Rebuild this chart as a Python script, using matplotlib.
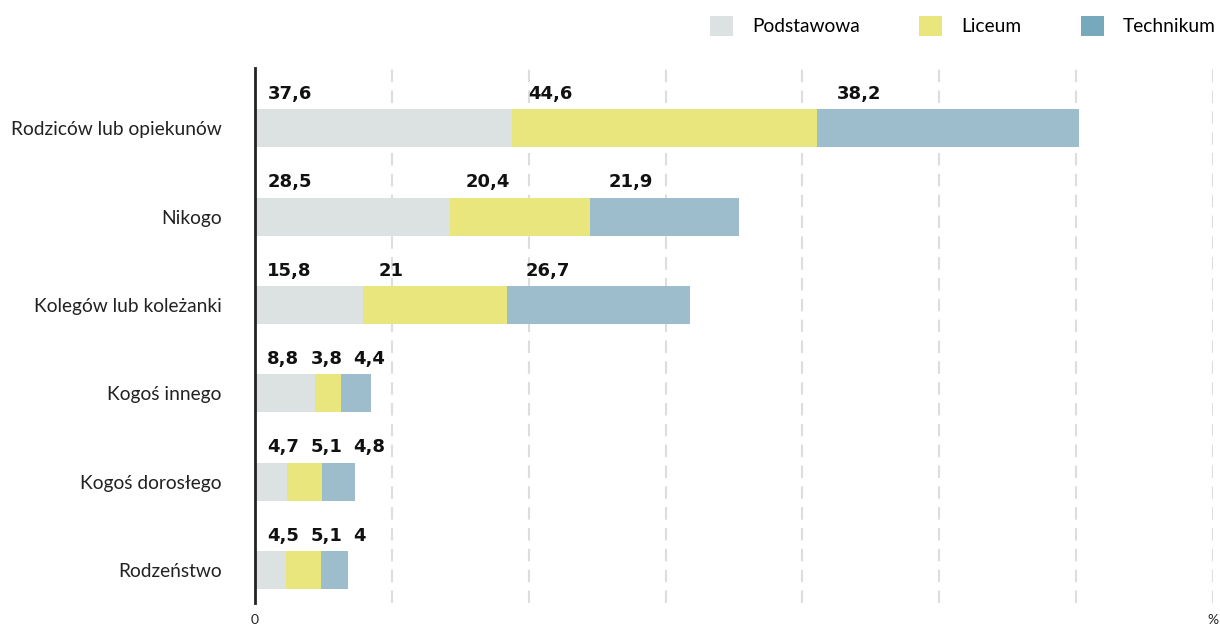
import matplotlib.pyplot as plt
from matplotlib.patches import Patch

categories = ["Rodziców lub opiekunów", "Nikogo", "Kolegów lub koleżanki",
              "Kogoś innego", "Kogoś dorosłego", "Rodzeństwo"]
series = ["Podstawowa", "Liceum", "Technikum"]
podstawowa = [37.6, 28.5, 15.8, 8.8, 4.7, 4.5]
liceum = [44.6, 20.4, 21, 3.8, 5.1, 5.1]
technikum = [38.2, 21.9, 26.7, 4.4, 4.8, 4]

bar_colors = ["#dce2e2", "#e9e67d", "#9ebdcc"]
legend_colors = ["#dce2e2", "#e9e67d", "#76a9bb"]

plt.rcParams['font.family'] = ['Lato', 'DejaVu Sans']

fig = plt.figure(figsize=(12.2, 6.3), dpi=100)
ax = fig.add_axes([255 / 1220, 1 - 603 / 630, (1213 - 255) / 1220, (603 - 68) / 630])

ys = list(range(len(categories)))
values = [podstawowa, liceum, technikum]
left = [0] * len(categories)
for s in range(3):
    ax.barh(ys, values[s], left=left, height=0.43, color=bar_colors[s], zorder=2)
    left = [left[i] + values[s][i] for i in range(len(categories))]

# value labels above the bars
for i in ys:
    x = 1.8
    for s in range(3):
        v = values[s][i]
        txt = ("%g" % v).replace(".", ",")
        ax.text(x, i - 0.39, txt, fontsize=13, fontweight='bold', family='DejaVu Sans',
                color="#111111", ha='left', va='center', zorder=3)
        x += v + 0.5 if v > 10 else 6.3

ax.set_xlim(0, 140)
ax.set_ylim(5.37, -0.68)
ax.set_yticks(ys)
ax.set_yticklabels(categories, fontsize=13.8, color="#222222")
ax.tick_params(axis='y', length=0, pad=24)
ax.set_xticks([0, 140])
ax.set_xticklabels(["0", "%"], fontsize=10, color="#222222")
ax.tick_params(axis='x', length=0, pad=8)

for x in range(20, 141, 20):
    ax.axvline(x, color="#dddddd", linewidth=1.5, linestyle=(0, (6, 4)), zorder=1)

for sp in ["top", "right", "bottom"]:
    ax.spines[sp].set_visible(False)
ax.spines["left"].set_color("#222222")
ax.spines["left"].set_linewidth(2)
ax.spines["left"].set_zorder(4)

handles = [Patch(facecolor=legend_colors[s], edgecolor='none', label=series[s]) for s in range(3)]
fig.legend(handles=handles, loc='upper right', bbox_to_anchor=(1216 / 1220, 1 - 16 / 630),
           ncol=3, frameon=False, fontsize=13.8, handlelength=1.2, handleheight=1.2,
           handletextpad=1.0, columnspacing=3.1, borderpad=0, borderaxespad=0)

plt.savefig("out.png")
